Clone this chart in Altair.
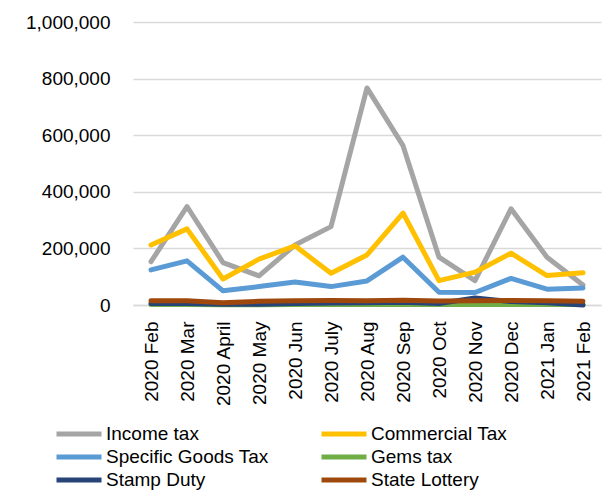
import altair as alt
import pandas as pd

months = ["2020 Feb", "2020 Mar", "2020 April", "2020 May", "2020 Jun", "2020 July",
          "2020 Aug", "2020 Sep", "2020 Oct", "2020 Nov", "2020 Dec", "2021 Jan", "2021 Feb"]

series_names = ["Income tax", "Commercial Tax", "Specific Goods Tax", "Gems tax",
                "Stamp Duty", "State Lottery"]
series_colors = ["#A5A5A5", "#FFC000", "#5B9BD5", "#70AD47", "#264478", "#9E480E"]

income_tax = [153000, 348000, 150000, 103000, 212000, 277000, 767000, 563000, 169000, 86000, 340000, 169000, 71000]
commercial_tax = [212000, 269000, 92000, 162000, 209000, 112000, 177000, 325000, 86000, 116000, 183000, 104000, 114000]
specific_goods_tax = [124000, 156000, 50000, 65000, 81000, 65000, 85000, 169000, 45000, 44000, 94000, 56000, 60000]
gems_tax = [1500, 1500, 1000, 1000, 1500, 1500, 1500, 2000, 1500, 1500, 1500, 1500, 1500]
stamp_duty = [5000, 5000, 3000, 3000, 5000, 7000, 8000, 10000, 5000, 25000, 12000, 8000, 0]
state_lottery = [15000, 15000, 8000, 13000, 15000, 16000, 15000, 17000, 14000, 15000, 16000, 15000, 13000]

all_values = [income_tax, commercial_tax, specific_goods_tax, gems_tax, stamp_duty, state_lottery]

rows = []
for order, (name, vals) in enumerate(zip(series_names, all_values)):
    for m, v in zip(months, vals):
        rows.append({"Month": m, "Series": name, "Value": v, "order": order})
df = pd.DataFrame(rows)

FONT = "Liberation Sans"

chart = alt.Chart(df).mark_line(
    strokeWidth=5, strokeCap="round", strokeJoin="round"
).encode(
    x=alt.X("Month:N", sort=months,
            scale=alt.Scale(type="point", padding=0.5),
            axis=alt.Axis(title=None, labelAngle=270, labelPadding=16, ticks=False,
                          domain=True, domainColor="#d9d9d9", domainWidth=1.5,
                          labelFont=FONT, labelFontSize=19, labelColor="#000000")),
    y=alt.Y("Value:Q",
            scale=alt.Scale(domain=[0, 1000000], nice=False),
            axis=alt.Axis(title=None, values=[0, 200000, 400000, 600000, 800000, 1000000],
                          format=",d", ticks=False, domain=False, grid=True,
                          gridColor="#d9d9d9", gridWidth=1.5, labelPadding=23,
                          labelFont=FONT, labelFontSize=19, labelColor="#000000")),
    color=alt.Color("Series:N",
                    scale=alt.Scale(domain=series_names, range=series_colors),
                    legend=alt.Legend(title=None, orient="none", legendX=-64, legendY=402,
                                      direction="horizontal", columns=2, columnPadding=42,
                                      rowPadding=3, symbolType="M-3,0H3", symbolSize=225,
                                      symbolStrokeWidth=5, labelOffset=17, labelLimit=300,
                                      labelFont=FONT, labelFontSize=19, labelColor="#000000")),
    order=alt.Order("order:Q"),
).properties(
    width=468, height=283,
    autosize=alt.AutoSizeParams(type="none"),
    padding={"left": 125, "top": 14, "right": 4, "bottom": 188},
).configure_view(stroke=None)

chart.save("out.html", embed_options={"renderer": "svg", "actions": False})
